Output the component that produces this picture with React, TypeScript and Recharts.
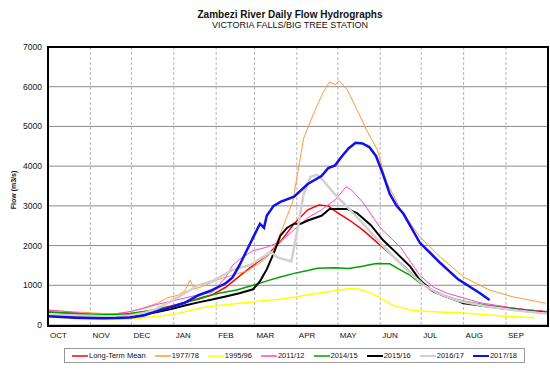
import React from 'react';
import { LineChart, Line, XAxis, YAxis, CartesianGrid, ReferenceLine } from 'recharts';

// [day since 1 Oct, flow m3/s]
const longTermMean: [number, number][] = [
  [0, 330], [10, 310], [20, 290], [30, 270], [40, 260], [50, 260], [60, 280], [70, 330], [80, 400], [90, 480],
  [100, 570], [110, 650], [120, 760], [130, 950], [140, 1230], [150, 1500], [160, 1750], [170, 2100], [180, 2550],
  [190, 2900], [198, 3020], [205, 3000], [210, 2870], [220, 2650], [230, 2400], [240, 2100], [250, 1800], [260, 1500],
  [270, 1170], [280, 880], [290, 720], [300, 620], [310, 550], [320, 500], [330, 460], [340, 420], [350, 380],
  [360, 350], [365, 335],
];

const flow1977: [number, number][] = [
  [0, 370], [10, 350], [20, 330], [30, 310], [40, 290], [50, 290], [60, 330], [70, 430], [80, 550], [87, 680],
  [95, 750], [100, 850], [104, 1130], [107, 900], [115, 1000], [125, 1150], [135, 1260], [145, 1350], [155, 1560],
  [160, 1700], [165, 1900], [170, 2300], [175, 2750], [179, 3100], [184, 4100], [187, 4700], [194, 5300],
  [201, 5840], [206, 6120], [210, 6050], [213, 6150], [219, 5920], [226, 5420], [233, 4910], [241, 4410],
  [245, 3900], [248, 3580], [258, 2900], [272, 2220], [287, 1710], [304, 1210], [323, 880], [340, 710], [364, 550],
];

const flow1995: [number, number][] = [
  [0, 200], [10, 180], [20, 160], [30, 150], [40, 140], [50, 140], [60, 150], [70, 180], [80, 220], [90, 260],
  [100, 330], [110, 420], [120, 470], [130, 510], [140, 550], [150, 580], [160, 620], [170, 650], [180, 700],
  [190, 760], [200, 810], [210, 860], [221, 920], [228, 900], [233, 840], [238, 770], [243, 690], [248, 580],
  [252, 500], [257, 450], [265, 380], [272, 350], [290, 320], [304, 300], [320, 260], [340, 210], [356, 180],
];

const flow2011: [number, number][] = [
  [0, 380], [10, 350], [20, 310], [30, 280], [40, 270], [50, 280], [60, 340], [70, 420], [80, 520], [90, 600],
  [100, 680], [110, 760], [120, 820], [130, 1200], [135, 1500], [140, 1650], [150, 1870], [160, 1960], [170, 2100],
  [180, 2400], [190, 2700], [200, 2900], [210, 3150], [218, 3480], [222, 3400], [230, 3100], [243, 2450],
  [258, 1950], [272, 1250], [282, 950], [292, 800], [316, 560], [340, 430], [364, 330],
];

const flow2014: [number, number][] = [
  [0, 330], [10, 310], [20, 290], [30, 270], [40, 260], [50, 260], [60, 290], [70, 340], [80, 390], [89, 450],
  [100, 560], [113, 700], [125, 800], [138, 880], [150, 1000], [162, 1130], [170, 1210], [180, 1300], [190, 1370],
  [197, 1430], [210, 1440], [220, 1420], [230, 1480], [240, 1550], [250, 1540], [257, 1400], [265, 1250],
  [272, 1060], [280, 900], [290, 740], [300, 630], [310, 560], [320, 500], [330, 450], [340, 410], [350, 370],
  [360, 330], [365, 320],
];

const flow2015: [number, number][] = [
  [0, 230], [10, 220], [20, 210], [30, 200], [40, 195], [50, 195], [60, 210], [70, 270], [80, 330], [90, 400],
  [100, 490], [110, 570], [120, 640], [130, 720], [140, 800], [150, 900], [155, 1100], [160, 1400], [165, 1800],
  [170, 2250], [175, 2450], [180, 2550], [185, 2550], [190, 2630], [200, 2750], [206, 2920], [219, 2920],
  [226, 2820], [236, 2520], [245, 2140], [255, 1810], [265, 1470], [272, 1130], [282, 840], [304, 550],
  [330, 430], [350, 350], [364, 300],
];

const flow2016: [number, number][] = [
  [0, 260], [10, 250], [20, 240], [30, 230], [40, 220], [50, 220], [60, 240], [70, 300], [80, 420], [90, 600],
  [100, 800], [110, 1000], [120, 1100], [135, 1390], [148, 1510], [163, 1840], [168, 1700], [178, 1600],
  [183, 2500], [187, 3300], [192, 3730], [197, 3780], [201, 3650], [209, 3320], [219, 2970], [230, 2570],
  [243, 2070], [255, 1640], [265, 1310], [275, 1000], [285, 800], [300, 610], [320, 470], [340, 380],
  [360, 300], [365, 290],
];

const flow2017: [number, number][] = [
  [0, 220], [10, 200], [20, 185], [30, 175], [40, 170], [50, 175], [60, 190], [70, 240], [80, 350], [90, 450],
  [100, 560], [110, 750], [120, 880], [130, 1050], [135, 1200], [140, 1500], [145, 1850], [150, 2200], [155, 2550],
  [158, 2450], [160, 2750], [165, 3000], [170, 3100], [180, 3230], [190, 3550], [200, 3750], [205, 3950],
  [210, 4020], [215, 4250], [220, 4450], [225, 4590], [230, 4570], [235, 4480], [240, 4250], [245, 3800],
  [250, 3300], [255, 3000], [260, 2800], [272, 2070], [280, 1800], [287, 1560], [300, 1150], [310, 930],
  [316, 800], [323, 630],
];

const months = ['OCT', 'NOV', 'DEC', 'JAN', 'FEB', 'MAR', 'APR', 'MAY', 'JUN', 'JUL', 'AUG', 'SEP'];
const monthStarts = [0, 31, 61, 92, 123, 151, 182, 212, 243, 273, 304, 335];
const flowTicks = [0, 1000, 2000, 3000, 4000, 5000, 6000, 7000];

const series = [
  { name: 'Long-Term Mean', points: longTermMean, color: '#ff0000', width: 1.5 },
  { name: '1977/78', points: flow1977, color: '#ff9933', width: 1 },
  { name: '1995/96', points: flow1995, color: '#ffff00', width: 1.5 },
  { name: '2011/12', points: flow2011, color: '#ff44cc', width: 1 },
  { name: '2014/15', points: flow2014, color: '#00a000', width: 1.5 },
  { name: '2015/16', points: flow2015, color: '#000000', width: 2 },
  { name: '2016/17', points: flow2016, color: '#d0d0d0', width: 2.5 },
  { name: '2017/18', points: flow2017, color: '#1010ee', width: 2.5 },
];

const font = '"Liberation Sans", Arial, sans-serif';

const MonthTick = (props: any) => {
  const { x, y, payload } = props;
  const i = monthStarts.indexOf(payload.value);
  return (
    <text x={x + 2} y={y + 5} fontSize={8} fontFamily={font} fill="#111" textAnchor="start">
      {months[i]}
    </text>
  );
};

export default function App() {
  return (
    <div style={{ position: 'absolute', left: 0, top: 0, width: 550, height: 374, background: '#fff', fontFamily: font }}>
      <div style={{ position: 'absolute', left: 0, width: 580, top: 9, textAlign: 'center', fontSize: 10, fontWeight: 'bold', color: '#111' }}>
        Zambezi River Daily Flow Hydrographs
      </div>
      <div style={{ position: 'absolute', left: 0, width: 580, top: 20, textAlign: 'center', fontSize: 9, color: '#111' }}>
        VICTORIA FALLS/BIG TREE STATION
      </div>
      <div style={{ position: 'absolute', left: 13, top: 190, transform: 'translate(-50%, -50%) rotate(-90deg)', fontSize: 7, fontWeight: 'bold', whiteSpace: 'nowrap', color: '#111' }}>
        Flow (m3/s)
      </div>

      <LineChart width={550} height={374} margin={{ top: 47, right: 3, bottom: 0, left: 0 }}>
        <CartesianGrid vertical={false} stroke="#8a8a8a" />
        {monthStarts.slice(1).map(d => (
          <ReferenceLine key={d} x={d} stroke="#b5b5b5" strokeDasharray="3 2" />
        ))}
        <XAxis
          dataKey="day"
          type="number"
          domain={[0, 365]}
          ticks={monthStarts}
          tick={<MonthTick />}
          tickLine={false}
          axisLine={false}
          height={49}
          allowDataOverflow
        />
        <YAxis
          type="number"
          domain={[0, 7000]}
          ticks={flowTicks}
          width={48}
          tickLine={false}
          axisLine={false}
          tickSize={4}
          tickMargin={2}
          tick={{ fontSize: 8.5, fill: '#111', fontFamily: font }}
        />
        {series.map(s => (
          <Line
            key={s.name}
            name={s.name}
            data={s.points.map(([day, flow]) => ({ day, flow }))}
            dataKey="flow"
            type="linear"
            stroke={s.color}
            strokeWidth={s.width}
            dot={false}
            isAnimationActive={false}
          />
        ))}
      </LineChart>

      <div style={{ position: 'absolute', left: 47, top: 46, width: 498, height: 277, border: '2px solid #000', pointerEvents: 'none' }} />

      <div style={{ position: 'absolute', left: 64, top: 348, width: 459, height: 13, border: '1px solid #999', display: 'flex', alignItems: 'center', justifyContent: 'center', gap: 9, fontSize: 7.5, color: '#111', whiteSpace: 'nowrap' }}>
        {series.map(s => (
          <div key={s.name} style={{ display: 'flex', alignItems: 'center', flexShrink: 0 }}>
            <svg width={16} height={6} style={{ display: 'block', marginRight: 1 }}>
              <line x1={0} y1={3} x2={16} y2={3} stroke={s.color} strokeWidth={s.width >= 2 ? 2 : 1.5} />
            </svg>
            <span>{s.name}</span>
          </div>
        ))}
      </div>
    </div>
  );
}
